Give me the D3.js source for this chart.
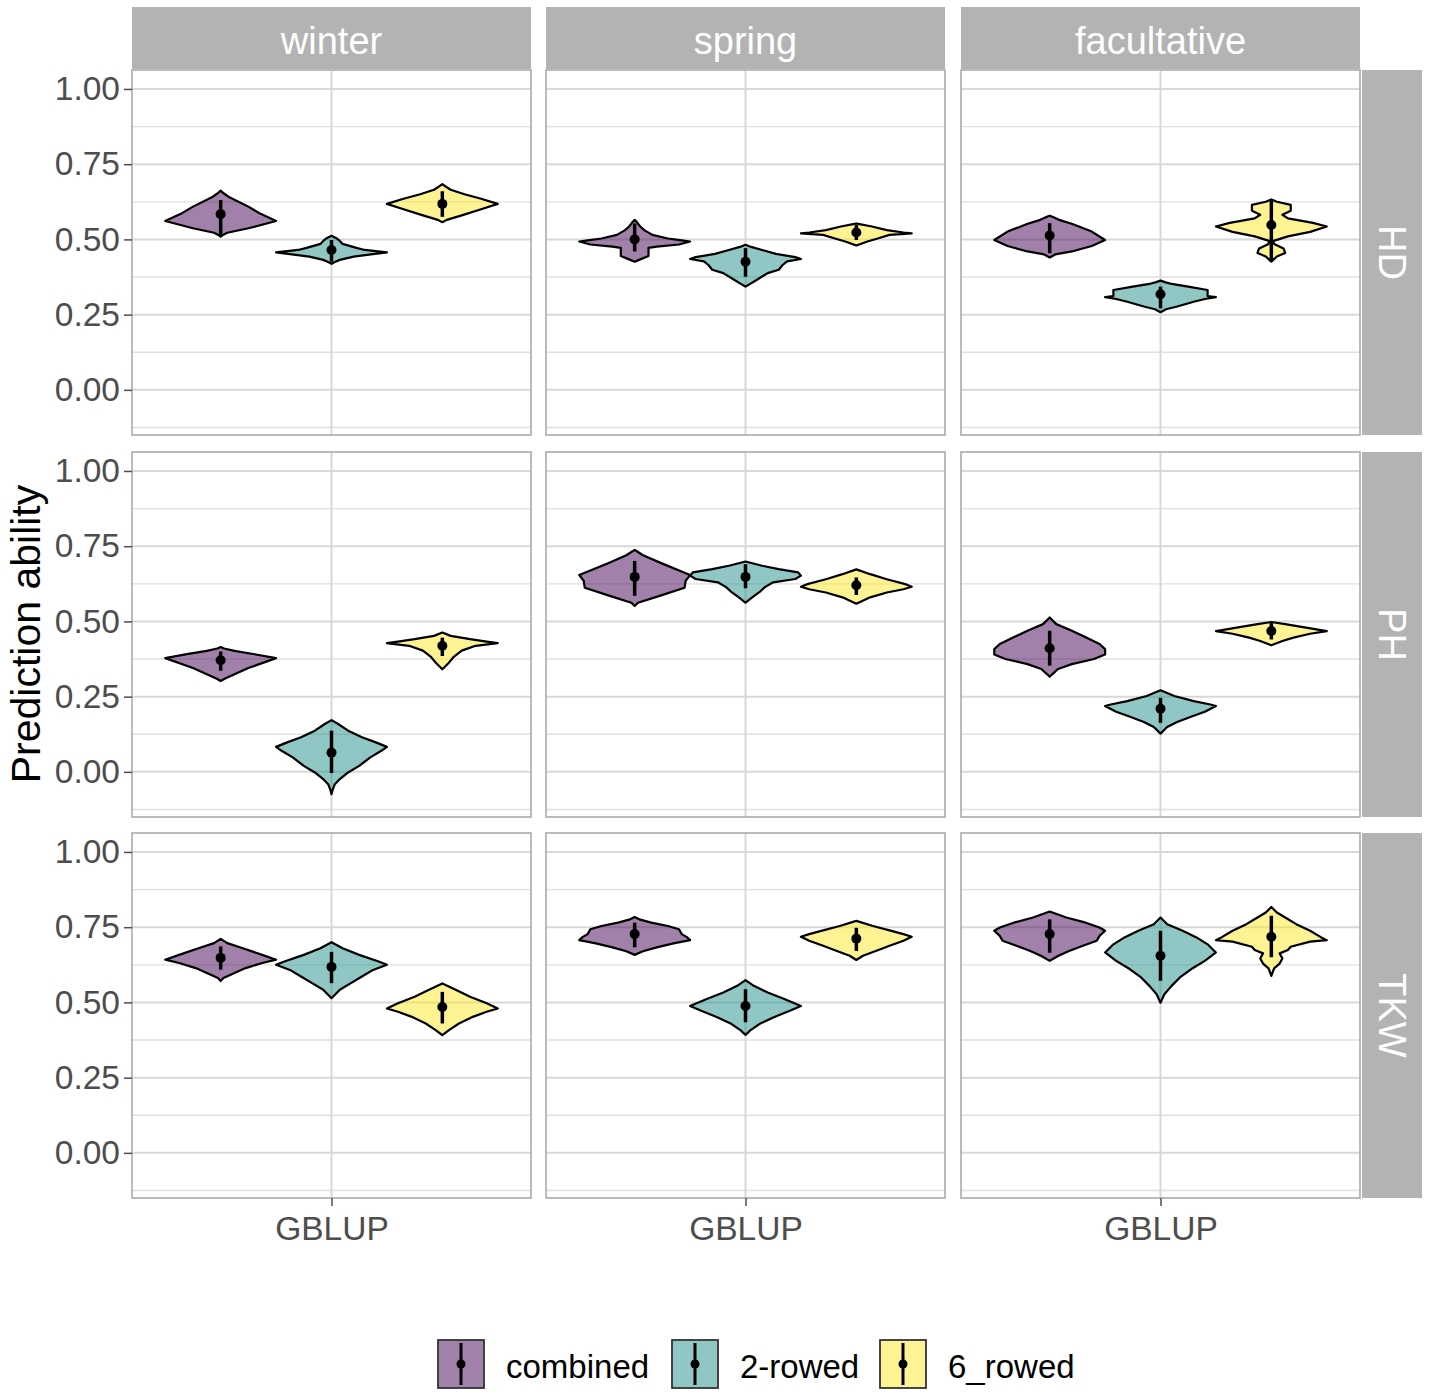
<!DOCTYPE html>
<html>
<head>
<meta charset="utf-8">
<script src="https://cdn.jsdelivr.net/npm/d3@7"></script>
<style>
  body { margin: 0; background: #fff; }
  text { font-family: "Liberation Sans", Arial, sans-serif; }
</style>
</head>
<body>
<svg id="chart" width="1429" height="1394"></svg>
<script>
// facets and groups
var seasons = ["winter", "spring", "facultative"];
var traits = ["HD", "PH", "TKW"];
var groups = ["combined", "2-rowed", "6_rowed"];
var groupColors = ["#440154", "#21908C", "#FDE725"];
var yTicks = [0, 0.25, 0.5, 0.75, 1];
var yMinor = [-0.125, 0.125, 0.375, 0.625, 0.875];
var xLabel = "GBLUP";

// pointrange per trait -> season -> group : [mean, low, high]
var pointHD = [
  [[0.584, 0.509, 0.631], [0.465, 0.426, 0.498], [0.618, 0.575, 0.660]],
  [[0.500, 0.460, 0.553], [0.426, 0.376, 0.471], [0.523, 0.498, 0.548]],
  [[0.513, 0.454, 0.554], [0.318, 0.271, 0.343], [0.548, 0.426, 0.630]]
];
var pointPH = [
  [[0.371, 0.336, 0.400], [0.064, -0.004, 0.137], [0.419, 0.385, 0.446]],
  [[0.648, 0.585, 0.701], [0.648, 0.610, 0.690], [0.620, 0.588, 0.646]],
  [[0.411, 0.353, 0.469], [0.210, 0.163, 0.246], [0.468, 0.440, 0.495]]
];
var pointTKW = [
  [[0.648, 0.609, 0.686], [0.618, 0.564, 0.668], [0.485, 0.430, 0.535]],
  [[0.727, 0.683, 0.765], [0.488, 0.434, 0.544], [0.712, 0.671, 0.748]],
  [[0.727, 0.665, 0.776], [0.655, 0.572, 0.738], [0.718, 0.650, 0.788]]
];

// violin outlines: [value, relative half width]
var shapesHD = [
  [ // winter
    [[0.509,0],[0.515,0.04],[0.522,0.12],[0.537,0.5],[0.561,1],[0.585,0.72],[0.609,0.5],[0.642,0.14],[0.655,0.04],[0.662,0]],
    [[0.419,0],[0.425,0.06],[0.432,0.15],[0.443,0.4],[0.457,1],[0.465,0.6],[0.472,0.45],[0.485,0.2],[0.495,0.15],[0.505,0.08],[0.512,0]],
    [[0.557,0],[0.565,0.08],[0.58,0.35],[0.60,0.7],[0.618,1],[0.635,0.7],[0.65,0.4],[0.665,0.15],[0.677,0.05],[0.684,0]]
  ],
  [ // spring
    [[0.426,0],[0.432,0.08],[0.445,0.25],[0.472,0.25],[0.476,0.4],[0.483,0.8],[0.493,1],[0.497,0.85],[0.503,0.6],[0.515,0.32],[0.53,0.18],[0.543,0.1],[0.555,0.05],[0.565,0]],
    [[0.343,0],[0.354,0.1],[0.371,0.25],[0.388,0.4],[0.399,0.6],[0.415,0.67],[0.427,0.75],[0.435,1],[0.441,0.9],[0.452,0.55],[0.465,0.3],[0.475,0.1],[0.482,0]],
    [[0.48,0],[0.493,0.2],[0.504,0.4],[0.515,0.6],[0.52,1],[0.523,0.85],[0.531,0.55],[0.543,0.28],[0.55,0.08],[0.553,0]]
  ],
  [ // facultative
    [[0.44,0],[0.45,0.1],[0.46,0.4],[0.478,0.76],[0.498,1],[0.526,0.76],[0.551,0.41],[0.565,0.17],[0.575,0.05],[0.579,0]],
    [[0.258,0],[0.268,0.1],[0.277,0.3],[0.293,0.6],[0.302,0.8],[0.308,1],[0.312,0.85],[0.332,0.85],[0.343,0.5],[0.352,0.2],[0.358,0.08],[0.363,0]],
    [[0.426,0],[0.443,0.1],[0.455,0.25],[0.47,0.22],[0.485,0.05],[0.495,0.04],[0.51,0.3],[0.525,0.7],[0.543,1],[0.555,0.75],[0.57,0.3],[0.582,0.2],[0.595,0.35],[0.615,0.35],[0.625,0.1],[0.633,0]]
  ]
];
var shapesPH = [
  [
    [[0.302,0],[0.31,0.08],[0.345,0.5],[0.378,1],[0.391,0.61],[0.402,0.25],[0.41,0.06],[0.415,0]],
    [[-0.074,0],[-0.06,0.02],[-0.041,0.06],[-0.024,0.15],[-0.002,0.3],[0.02,0.5],[0.048,0.7],[0.07,0.9],[0.083,1],[0.098,0.8],[0.115,0.55],[0.137,0.3],[0.159,0.12],[0.172,0]],
    [[0.341,0],[0.359,0.1],[0.381,0.2],[0.403,0.35],[0.419,0.6],[0.428,1],[0.433,0.8],[0.441,0.5],[0.452,0.15],[0.463,0]]
  ],
  [
    [[0.551,0],[0.562,0.06],[0.585,0.45],[0.612,0.9],[0.635,0.92],[0.654,1],[0.692,0.5],[0.72,0.15],[0.733,0.04],[0.738,0]],
    [[0.562,0],[0.58,0.12],[0.597,0.25],[0.614,0.35],[0.63,0.5],[0.641,0.9],[0.652,1],[0.663,0.95],[0.674,0.6],[0.685,0.3],[0.699,0]],
    [[0.559,0],[0.58,0.25],[0.596,0.55],[0.607,0.85],[0.615,1],[0.623,0.9],[0.64,0.55],[0.657,0.25],[0.673,0]]
  ],
  [
    [[0.316,0],[0.325,0.05],[0.342,0.15],[0.358,0.4],[0.375,0.8],[0.39,1],[0.408,1],[0.425,0.9],[0.447,0.65],[0.469,0.4],[0.491,0.12],[0.513,0]],
    [[0.127,0],[0.149,0.12],[0.166,0.3],[0.183,0.55],[0.2,0.8],[0.219,1],[0.224,0.9],[0.235,0.6],[0.252,0.25],[0.271,0]],
    [[0.421,0],[0.435,0.2],[0.446,0.4],[0.459,0.7],[0.468,1],[0.48,0.6],[0.491,0.25],[0.498,0]]
  ]
];
var shapesTKW = [
  [
    [[0.571,0],[0.581,0.05],[0.598,0.25],[0.614,0.45],[0.631,0.75],[0.642,1],[0.658,0.75],[0.68,0.4],[0.697,0.12],[0.711,0]],
    [[0.514,0],[0.542,0.15],[0.564,0.35],[0.586,0.55],[0.608,0.75],[0.625,1],[0.636,0.85],[0.658,0.5],[0.68,0.2],[0.70,0]],
    [[0.391,0],[0.408,0.12],[0.43,0.3],[0.452,0.55],[0.469,0.8],[0.48,1],[0.497,0.8],[0.519,0.5],[0.541,0.25],[0.563,0]]
  ],
  [
    [[0.658,0],[0.67,0.15],[0.683,0.4],[0.696,0.7],[0.707,1],[0.716,0.95],[0.727,0.85],[0.743,0.8],[0.754,0.6],[0.765,0.3],[0.775,0.1],[0.784,0]],
    [[0.392,0],[0.406,0.08],[0.428,0.25],[0.45,0.5],[0.472,0.8],[0.488,1],[0.511,0.7],[0.533,0.4],[0.555,0.15],[0.574,0]],
    [[0.641,0],[0.655,0.12],[0.671,0.35],[0.688,0.6],[0.705,0.85],[0.718,1],[0.727,0.85],[0.737,0.65],[0.754,0.3],[0.771,0]]
  ],
  [
    [[0.638,0],[0.654,0.15],[0.671,0.35],[0.688,0.6],[0.705,0.85],[0.721,0.9],[0.738,1],[0.749,0.9],[0.765,0.65],[0.782,0.3],[0.802,0]],
    [[0.499,0],[0.527,0.07],[0.555,0.2],[0.583,0.35],[0.61,0.55],[0.638,0.8],[0.666,1],[0.693,0.85],[0.716,0.65],[0.738,0.4],[0.76,0.12],[0.782,0]],
    [[0.588,0],[0.613,0.05],[0.629,0.15],[0.646,0.2],[0.663,0.15],[0.674,0.3],[0.685,0.35],[0.702,0.7],[0.707,1],[0.716,0.9],[0.738,0.7],[0.76,0.45],[0.782,0.25],[0.799,0.1],[0.817,0]]
  ]
];

var points = [pointHD, pointPH, pointTKW];
var shapes = [shapesHD, shapesPH, shapesTKW];

// layout
var colLeft = [132, 546, 961];
var rowTop = [70, 452, 833];
var panelW = 399, panelH = 365;
var stripTop = 7, stripRightX = 1362, stripW = 60;
var font = "'Liberation Sans', Arial, sans-serif";

var svg = d3.select("#chart");

var x = d3.scaleLinear().domain([0.4, 1.6]).range([0, panelW]);
var y = d3.scaleLinear().domain([-0.15, 1.063]).range([panelH, 0]);

traits.forEach(function(trait, ti) {
  seasons.forEach(function(season, si) {
    var g = svg.append("g").attr("transform", "translate(" + colLeft[si] + "," + rowTop[ti] + ")");

    g.append("rect").attr("width", panelW).attr("height", panelH).attr("fill", "#fff");

    g.selectAll(".minor").data(yMinor).enter().append("line")
      .attr("x1", 0).attr("x2", panelW)
      .attr("y1", function(d) { return y(d); }).attr("y2", function(d) { return y(d); })
      .attr("stroke", "#e0e0e0").attr("stroke-width", 1.3);
    g.selectAll(".major").data(yTicks).enter().append("line")
      .attr("x1", 0).attr("x2", panelW)
      .attr("y1", function(d) { return y(d); }).attr("y2", function(d) { return y(d); })
      .attr("stroke", "#d8d8d8").attr("stroke-width", 2);
    g.append("line").attr("x1", x(1)).attr("x2", x(1)).attr("y1", 0).attr("y2", panelH)
      .attr("stroke", "#d8d8d8").attr("stroke-width", 2);

    groups.forEach(function(grp, gi) {
      var cx = 1 + (gi - 1) / 3;
      var area = d3.area()
        .y(function(d) { return y(d[0]); })
        .x0(function(d) { return x(cx - d[1] / 6); })
        .x1(function(d) { return x(cx + d[1] / 6); });
      g.append("path")
        .datum(shapes[ti][si][gi])
        .attr("d", area)
        .attr("fill", groupColors[gi]).attr("fill-opacity", 0.5)
        .attr("stroke", "#000").attr("stroke-width", 2.2)
        .attr("stroke-linejoin", "round");

      var p = points[ti][si][gi];
      g.append("line")
        .attr("x1", x(cx)).attr("x2", x(cx))
        .attr("y1", y(p[1])).attr("y2", y(p[2]))
        .attr("stroke", "#000").attr("stroke-width", 3.5);
      g.append("circle")
        .attr("cx", x(cx)).attr("cy", y(p[0])).attr("r", 5)
        .attr("fill", "#000");
    });

    g.append("rect").attr("width", panelW).attr("height", panelH)
      .attr("fill", "none").attr("stroke", "#ababab").attr("stroke-width", 1.6);

    // y axis on the first column
    if (si === 0) {
      var ax = g.append("g").call(d3.axisLeft(y).tickValues(yTicks).tickFormat(d3.format(".2f")).tickSize(8).tickPadding(4));
      ax.select(".domain").remove();
      ax.selectAll("line").attr("stroke", "#4d4d4d").attr("stroke-width", 1.5);
      ax.selectAll("text").attr("fill", "#4d4d4d").style("font-size", "33.5px").style("font-family", font);
    }
    // x axis on the bottom row
    if (ti === traits.length - 1) {
      var bx = g.append("g").attr("transform", "translate(0," + panelH + ")")
        .call(d3.axisBottom(x).tickValues([1]).tickFormat(function() { return xLabel; }).tickSize(8).tickPadding(10));
      bx.select(".domain").remove();
      bx.selectAll("line").attr("stroke", "#4d4d4d").attr("stroke-width", 1.5);
      bx.selectAll("text").attr("fill", "#4d4d4d").style("font-size", "33.5px").style("font-family", font);
    }
    // top strips
    if (ti === 0) {
      svg.append("rect").attr("x", colLeft[si]).attr("y", stripTop)
        .attr("width", panelW).attr("height", rowTop[0] - stripTop - 1).attr("fill", "#b3b3b3");
      svg.append("text").attr("x", colLeft[si] + panelW / 2).attr("y", (stripTop + rowTop[0]) / 2 + 2)
        .attr("text-anchor", "middle").attr("dominant-baseline", "central")
        .attr("fill", "#fff").style("font-size", "38px").text(season);
    }
  });
  // right strips
  svg.append("rect").attr("x", stripRightX).attr("y", rowTop[ti])
    .attr("width", stripW).attr("height", panelH).attr("fill", "#b3b3b3");
  var tx = stripRightX + stripW / 2, ty = rowTop[ti] + panelH / 2;
  svg.append("text").attr("transform", "translate(" + tx + "," + ty + ") rotate(90)")
    .attr("text-anchor", "middle").attr("dominant-baseline", "central")
    .attr("fill", "#fff").style("font-size", "38px").text(trait);
});

// y title
svg.append("text")
  .attr("transform", "translate(26," + (rowTop[0] + (rowTop[2] + panelH - rowTop[0]) / 2) + ") rotate(-90)")
  .attr("text-anchor", "middle").attr("dominant-baseline", "central")
  .attr("fill", "#000").style("font-size", "41px").text("Prediction ability");

// legend
var legendX = [438, 672, 880];
var legend = svg.append("g");
groups.forEach(function(grp, gi) {
  var lg = legend.append("g").attr("transform", "translate(" + legendX[gi] + ",1340)");
  lg.append("rect").attr("width", 46).attr("height", 48)
    .attr("fill", groupColors[gi]).attr("fill-opacity", 0.5)
    .attr("stroke", "#333").attr("stroke-width", 1.8);
  lg.append("line").attr("x1", 23).attr("x2", 23).attr("y1", 3).attr("y2", 45)
    .attr("stroke", "#000").attr("stroke-width", 3);
  lg.append("circle").attr("cx", 23).attr("cy", 24).attr("r", 4.5).attr("fill", "#000");
  lg.append("text").attr("x", 68).attr("y", 26).attr("dominant-baseline", "central")
    .attr("fill", "#000").style("font-size", "33px").text(grp);
});
</script>
</body>
</html>
